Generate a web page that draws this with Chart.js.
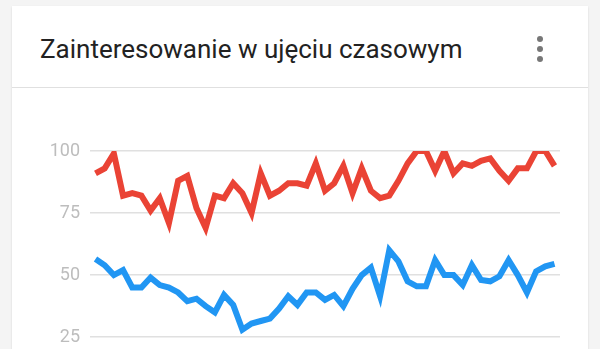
<!DOCTYPE html>
<html>
<head>
<meta charset="utf-8">
<script src="https://cdn.jsdelivr.net/npm/chart.js@4"></script>
<style>
    html, body {
        margin: 0;
        padding: 0;
        width: 600px;
        height: 349px;
        overflow: hidden;
        background: #f4f4f4;
        font-family: Roboto, "Noto Sans", sans-serif;
    }
    .card {
        position: absolute;
        left: 12px;
        top: 6px;
        width: 576px;
        height: 420px;
        background: #fff;
        box-shadow: 0 1px 2px rgba(0, 0, 0, 0.12);
    }
    .title {
        position: absolute;
        left: 28px;
        top: 28px;
        font-size: 26px;
        color: #222;
        white-space: nowrap;
    }
    .menu {
        position: absolute;
        left: 525px;
        top: 30px;
        width: 6px;
    }
    .menu span {
        display: block;
        width: 6px;
        height: 6px;
        border-radius: 50%;
        background: #777;
        margin-bottom: 4px;
    }
    .sep {
        position: absolute;
        left: 0;
        top: 81px;
        width: 576px;
        height: 1px;
        background: #e0e0e0;
    }
    #trend {
        position: absolute;
        left: 0;
        top: 130px;
    }
</style>
</head>
<body>
<div class="card">
    <div class="title">Zainteresowanie w ujęciu czasowym</div>
    <div class="menu"><span></span><span></span><span></span></div>
    <div class="sep"></div>
</div>
<canvas id="trend" width="600" height="290"></canvas>

<script>
    // wartości tygodniowe
    const redSeries = [
        91, 93, 99, 82, 83, 82, 76, 81, 71, 88,
        90, 77, 69, 82, 81, 87, 83, 75, 91, 82,
        84, 87, 87, 86, 95, 84, 87, 94, 83, 93,
        84, 81, 82, 88, 95, 100, 100, 92, 100, 91,
        95, 94, 96, 97, 92, 88, 93, 93, 100, 100,
        94,
    ];
    const blueSeries = [
        56.5, 54, 50, 52, 45, 45, 49, 46, 45, 43,
        39.5, 40.5, 37.5, 35, 42, 38, 28, 30.5, 31.5, 32.5,
        36.5, 41.5, 38, 43, 43, 40, 42, 37.5, 44.5, 50,
        53, 41.5, 60, 55.5, 47.5, 45.5, 45.5, 56, 50, 50,
        46, 54, 48, 47.5, 49.5, 56, 50, 43, 51.5, 53.5,
        54.5,
    ];
    const yTicks = [0, 25, 50, 75, 100];

    function toPoints(arr) {
        return arr.map((v, i) => ({ x: i, y: v }));
    }

    const context = document.getElementById("trend");

    const config = {
        type: "line",
        data: {
            datasets: [
                {
                    data: toPoints(redSeries),
                    borderColor: "#ea4335",
                    borderWidth: 6,
                    pointRadius: 0,
                    tension: 0,
                    borderJoinStyle: "miter",
                },
                {
                    data: toPoints(blueSeries),
                    borderColor: "#2196f3",
                    borderWidth: 6,
                    pointRadius: 0,
                    tension: 0,
                    borderJoinStyle: "miter",
                },
            ],
        },
        options: {
            responsive: false,
            animation: false,
            layout: {
                padding: { left: 0, right: 40, top: 21, bottom: 20 },
            },
            plugins: {
                legend: { display: false },
                tooltip: { enabled: false },
            },
            scales: {
                x: {
                    type: "linear",
                    display: false,
                    min: -0.6,
                    max: redSeries.length - 0.4,
                },
                y: {
                    min: yTicks[0],
                    max: yTicks[yTicks.length - 1],
                    afterFit: (scale) => {
                        scale.width = 90;
                    },
                    afterBuildTicks: (scale) => {
                        scale.ticks = yTicks.map((v) => ({ value: v }));
                    },
                    border: { display: false },
                    grid: {
                        color: "#e0e0e0",
                        lineWidth: 1.5,
                        drawTicks: false,
                    },
                    ticks: {
                        padding: 10,
                        color: "#bdbdbd",
                        font: { family: "Roboto", size: 18 },
                    },
                },
            },
        },
    };

    const myChart = new Chart(context, config);
</script>
</body>
</html>
